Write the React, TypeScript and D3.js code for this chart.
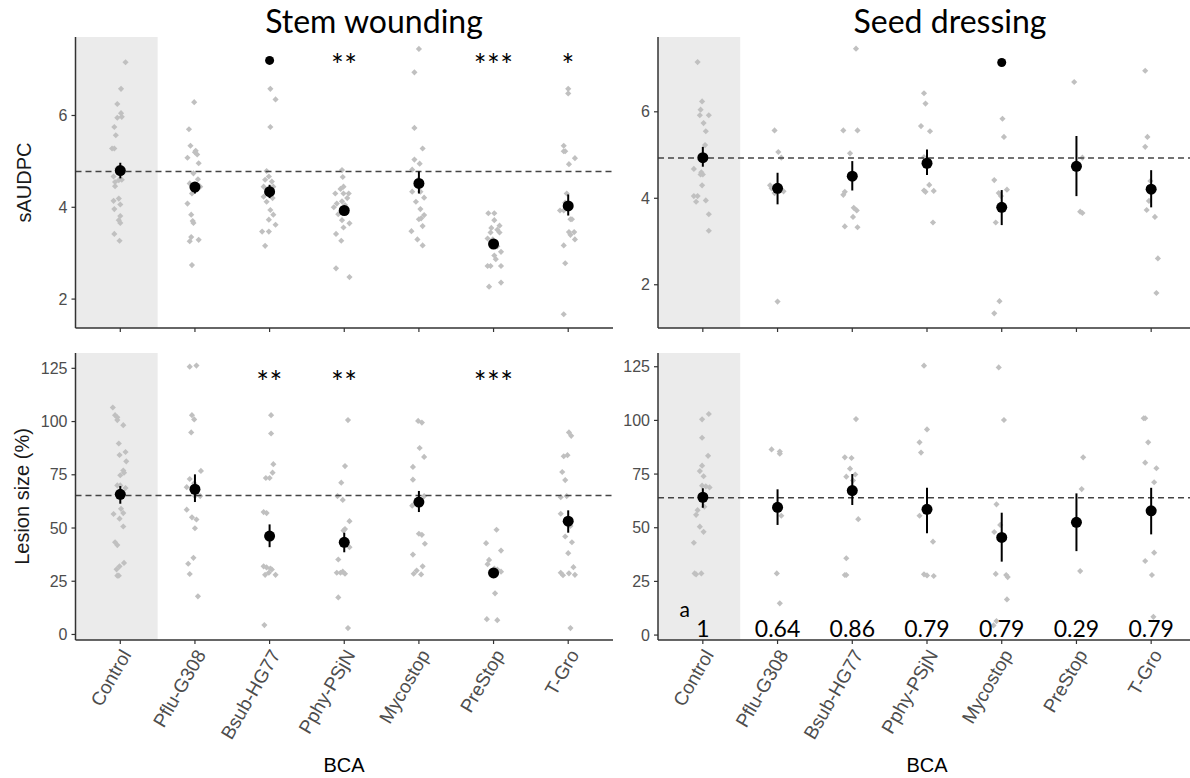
import React from "react";
import * as d3 from "d3";

// ---------- DATA ----------
const categories = ["Control", "Pflu-G308", "Bsub-HG77", "Pphy-PSjN", "Mycostop", "PreStop", "T-Gro"];

// Stem wounding – sAUDPC: [value, jitter (category units)]
const swAudpcPoints: [number, number][][] = [
  [[7.16, 0.07], [6.58, 0.01], [6.25, -0.04], [6.05, 0.01], [5.95, -0.04], [5.97, 0.02], [5.75, -0.08], [5.57, -0.06], [5.28, -0.11], [5.28, -0.08], [4.85, -0.04], [4.67, -0.09], [4.59, -0.02], [4.6, 0.02], [4.55, -0.07], [4.46, -0.07], [4.19, -0.02], [4.14, -0.09], [4.06, 0], [3.96, -0.08], [3.81, 0], [3.72, -0.02], [3.66, 0], [3.42, -0.08], [3.27, -0.01]],
  [[6.29, -0.01], [5.7, -0.08], [5.34, -0.06], [5.23, 0.01], [5.2, 0], [5.15, 0.03], [5.08, -0.1], [4.96, 0.05], [4.74, -0.02], [4.61, 0.04], [4.52, -0.07], [4.45, 0.07], [4.4, 0.02], [4.3, -0.04], [4.08, -0.1], [3.84, -0.05], [3.7, -0.03], [3.66, -0.02], [3.35, -0.05], [3.26, -0.07], [3.29, 0.05], [2.74, -0.04]],
  [[6.58, 0.01], [6.35, 0.08], [5.75, 0.01], [4.79, -0.04], [4.67, -0.01], [4.6, -0.06], [4.56, 0.03], [4.45, -0.08], [4.45, 0.05], [4.3, 0.02], [4.23, -0.08], [4.2, 0.04], [4.12, -0.04], [3.94, 0.01], [3.84, 0.05], [3.73, -0.01], [3.62, 0.08], [3.47, -0.1], [3.47, -0.01], [3.16, -0.06]],
  [[4.81, -0.03], [4.66, -0.02], [4.45, -0.01], [4.4, -0.05], [4.3, -0.12], [4.3, -0.01], [4.3, 0.06], [4.2, 0.04], [4.13, -0.03], [4.08, -0.1], [4.05, 0.01], [4.0, -0.14], [3.85, -0.08], [3.72, -0.03], [3.65, 0.07], [3.56, -0.01], [3.42, -0.11], [3.27, -0.04], [2.67, -0.11], [2.48, 0.07]],
  [[7.45, 0], [6.94, -0.06], [5.73, -0.06], [5.28, 0.05], [5.04, -0.06], [4.95, 0.01], [4.82, -0.09], [4.6, -0.01], [4.34, -0.09], [4.34, 0.02], [4.21, 0.07], [4.12, -0.04], [3.96, 0.02], [3.83, 0.07], [3.76, 0.03], [3.74, 0], [3.59, 0.05], [3.48, -0.1], [3.3, -0.02], [3.17, 0.05]],
  [[3.87, -0.07], [3.87, 0.01], [3.72, 0.01], [3.6, 0.08], [3.55, -0.03], [3.51, 0.05], [3.45, -0.04], [3.45, 0.08], [3.32, -0.08], [3.3, -0.01], [3.15, 0.05], [3.03, 0.1], [2.95, 0.01], [2.87, 0.03], [2.72, -0.08], [2.72, -0.04], [2.72, 0.1], [2.36, 0.1], [2.27, -0.06]],
  [[6.58, 0], [6.48, 0], [5.34, -0.06], [5.22, -0.06], [5.22, -0.04], [5.07, 0.09], [4.94, 0.01], [4.3, -0.02], [4.1, -0.04], [3.93, -0.11], [3.93, -0.06], [3.74, 0.05], [3.74, 0.03], [3.46, 0.01], [3.46, 0.08], [3.4, 0.03], [3.3, 0.09], [3.17, -0.06], [2.78, -0.04], [1.67, -0.06]],
];
const swAudpcMean = [4.8, 4.44, 4.34, 3.93, 4.52, 3.2, 4.03];
const swAudpcLo = [4.63, 4.3, 4.2, 3.85, 4.3, 3.13, 3.82];
const swAudpcHi = [4.97, 4.54, 4.49, 4.01, 4.78, 3.27, 4.28];
const swAudpcRef = 4.78;
const swAudpcSig = ["", "", "•", "**", "", "***", "*"];

// Seed dressing – sAUDPC
const sdAudpcPoints: [number, number][][] = [
  [[7.15, -0.07], [6.24, -0.01], [6.05, -0.03], [5.92, -0.04], [5.92, 0.08], [5.74, 0.01], [5.55, 0.04], [5.23, 0.03], [4.95, 0.02], [4.68, -0.12], [4.6, -0.02], [4.55, -0.03], [4.55, 0], [4.3, -0.01], [4.05, -0.12], [4.05, -0.07], [3.95, 0.04], [3.92, -0.09], [3.63, 0.08], [3.25, 0.08]],
  [[5.57, -0.04], [5.07, 0.01], [4.94, 0.05], [4.3, -0.1], [4.23, -0.08], [4.17, 0.03], [4.16, 0.08], [4.12, -0.04], [1.61, 0]],
  [[7.46, 0.05], [5.57, -0.12], [5.57, 0.07], [5.04, -0.03], [4.15, -0.1], [4.08, -0.12], [3.78, 0.02], [3.72, 0.06], [3.57, 0.01], [3.35, -0.1], [3.33, 0.07]],
  [[6.43, -0.04], [6.19, -0.02], [5.67, -0.08], [5.55, 0.04], [4.95, -0.04], [4.9, 0], [4.31, 0.03], [4.18, -0.04], [4.15, -0.02], [4.17, 0.09], [3.44, 0.08]],
  [[5.84, 0.01], [5.42, 0.03], [4.42, -0.1], [4.2, 0.07], [4.12, -0.04], [4.05, -0.01], [3.44, -0.08], [1.62, -0.03], [1.34, -0.1]],
  [[6.69, -0.03], [4.94, 0.08], [3.69, 0.05], [3.66, 0.08]],
  [[6.95, -0.08], [5.42, -0.05], [5.19, -0.08], [4.4, -0.01], [4.25, -0.03], [3.94, -0.03], [3.73, -0.06], [3.57, 0.05], [2.61, 0.09], [1.81, 0.07]],
];
const sdAudpcMean = [4.94, 4.23, 4.51, 4.81, 3.79, 4.74, 4.21];
const sdAudpcLo = [4.73, 3.86, 4.18, 4.54, 3.38, 4.05, 3.79];
const sdAudpcHi = [5.19, 4.59, 4.86, 5.13, 4.19, 5.44, 4.65];
const sdAudpcRef = 4.93;
const sdAudpcSig = ["", "", "", "", "•", "", ""];

// Stem wounding – lesion size (%)
const swLesionPoints: [number, number][][] = [
  [[106.6, -0.1], [103, -0.07], [102, -0.04], [100.7, -0.04], [98.3, 0.04], [89.7, -0.02], [85.7, 0.07], [84.3, -0.01], [81.3, 0.08], [77, 0.04], [76, 0.05], [74.8, 0], [70, -0.04], [70, 0], [68.8, 0.07], [64.5, 0.02], [59, 0.01], [57, 0.04], [56.6, -0.09], [54.4, -0.01], [50.7, 0.04], [43.3, -0.07], [42, -0.04], [33.6, 0.05], [32, -0.01], [30.6, -0.05], [27.6, -0.04], [27.6, -0.02]],
  [[126.3, 0.02], [125.8, -0.07], [103, -0.04], [101, -0.01], [94.9, -0.05], [76.8, 0.08], [73, -0.07], [71, -0.01], [69.2, -0.11], [65, 0], [65, 0.07], [58.6, -0.11], [55, -0.04], [54, 0.02], [49.9, 0], [36, -0.02], [33.2, -0.09], [28.4, -0.07], [17.9, 0.04]],
  [[103, 0.02], [94.4, 0.02], [80, 0.05], [76, 0.04], [73.5, -0.05], [73.5, 0], [57.5, -0.08], [57, -0.04], [32, -0.08], [31.5, -0.04], [31, 0.01], [30.5, 0.03], [29, -0.01], [28, 0.08], [28, -0.06], [4.4, -0.07]],
  [[100.7, 0.05], [79.1, 0.01], [71.3, -0.04], [65, -0.09], [63.2, -0.02], [53.2, 0.07], [49.5, 0.01], [48.8, -0.01], [41, 0.07], [35.2, -0.08], [29.5, -0.02], [29, -0.1], [29, -0.05], [28.5, 0.01], [17.4, -0.08], [3, 0.05]],
  [[100.3, -0.01], [99.5, 0.04], [87.6, 0.01], [83.4, 0.07], [78.7, -0.08], [72.7, -0.08], [65, 0.07], [63.7, 0], [62, -0.04], [60.5, -0.09], [47.3, 0], [46.8, 0.04], [42.6, 0.08], [37.5, -0.08], [32, 0.05], [30, -0.03], [28.5, -0.07], [28.2, 0.03]],
  [[49.2, 0.04], [42.9, -0.1], [39.4, 0.1], [35, -0.06], [33, -0.08], [31, 0.01], [30.5, 0.05], [29.5, 0.1], [29, -0.04], [28, 0.03], [19.3, 0.02], [7.2, -0.09], [6.7, 0.05]],
  [[94.9, 0.01], [93.3, 0.04], [84.2, -0.01], [83.7, -0.06], [76.3, -0.08], [72.5, -0.04], [65, -0.02], [64.5, -0.1], [56.7, -0.1], [51, 0.03], [46, -0.04], [43.3, 0.05], [38.2, 0], [31.6, 0.07], [29, -0.1], [28.7, 0.01], [28, 0.09], [27.8, -0.07], [3, 0.03]],
];
const swLesionMean = [65.8, 68.2, 46.2, 43.3, 62.2, 28.9, 53.2];
const swLesionLo = [61.4, 62.2, 41.0, 38.6, 57.5, 27.0, 47.8];
const swLesionHi = [69.7, 75.2, 51.7, 47.8, 67.4, 30.8, 58.3];
const swLesionRef = 65.3;
const swLesionSig = ["", "", "**", "**", "", "***", ""];

// Seed dressing – lesion size (%)
const sdLesionPoints: [number, number][][] = [
  [[103, 0.08], [100.5, -0.01], [91.9, -0.01], [83.5, 0.07], [78.9, -0.01], [76.4, -0.04], [74, 0.01], [69.6, -0.01], [69.3, 0.04], [68.8, 0.09], [59.8, 0.02], [58.2, -0.07], [56, -0.09], [50.5, -0.04], [48.1, 0.01], [43, -0.12], [28.7, -0.11], [28.3, -0.09], [28.7, -0.02]],
  [[86.5, -0.08], [85.5, 0.03], [84.5, 0.03], [55.6, 0.05], [28.7, -0.01], [14.8, 0.03]],
  [[100.6, 0.05], [82.8, -0.1], [82.5, -0.01], [77.5, -0.03], [74.8, 0.04], [73.8, -0.08], [72, 0.01], [54, 0.08], [35.8, -0.08], [28, -0.1], [28, -0.08]],
  [[125.5, -0.04], [95.8, 0], [89.8, -0.1], [85, -0.08], [55.6, -0.1], [43.5, 0.08], [28.3, -0.04], [27.8, 0], [27.5, 0.09]],
  [[124.7, -0.04], [100.2, 0.03], [60.9, -0.07], [51.3, -0.02], [48, -0.1], [28.5, -0.08], [28, 0.06], [27, 0.08], [16.6, 0.07], [6.5, -0.07], [4.5, -0.11]],
  [[82.8, 0.09], [68, 0.07], [29.8, 0.05]],
  [[101, -0.1], [101, -0.08], [89.8, -0.04], [80.3, -0.08], [77.7, 0.07], [71.2, 0.04], [38.4, 0.04], [34.5, -0.08], [28, 0.01], [8.5, 0.03]],
];
const sdLesionMean = [64.2, 59.5, 67.3, 58.6, 45.5, 52.5, 57.9];
const sdLesionLo = [59.3, 51.3, 60.6, 47.4, 34.2, 39.1, 46.9];
const sdLesionHi = [68.4, 67.9, 75.0, 68.6, 57.0, 66.0, 68.6];
const sdLesionRef = 64;
const sdLesionSig = ["", "", "", "", "", "", ""];
const sdLesionPvalues = ["1", "0.64", "0.86", "0.79", "0.79", "0.29", "0.79"];
const sdLesionLetter = "a";

const audpcTicks = [2, 4, 6];
const lesionTicks = [0, 25, 50, 75, 100, 125];

const titles = ["Stem wounding", "Seed dressing"];
const xTitle = "BCA";
const yTitles = ["sAUDPC", "Lesion size (%)"];

// ---------- LAYOUT ----------
const W = 1190, H = 778;
const colX: [number, number][] = [[75.5, 613], [658, 1196]];
const rowY: [number, number][] = [[37, 328], [353, 640]];

type PanelDef = {
  col: number; row: number; domain: [number, number]; ticks: number[];
  points: [number, number][][]; mean: number[]; lo: number[]; hi: number[]; ref: number;
  sig: string[]; sigY: number; pvals?: string[];
};

const panels: PanelDef[] = [
  { col: 0, row: 0, domain: [1.37, 7.71], ticks: audpcTicks, points: swAudpcPoints, mean: swAudpcMean, lo: swAudpcLo, hi: swAudpcHi, ref: swAudpcRef, sig: swAudpcSig, sigY: 7.2 },
  { col: 1, row: 0, domain: [1.0, 7.73], ticks: audpcTicks, points: sdAudpcPoints, mean: sdAudpcMean, lo: sdAudpcLo, hi: sdAudpcHi, ref: sdAudpcRef, sig: sdAudpcSig, sigY: 7.14 },
  { col: 0, row: 1, domain: [-2.6, 132.2], ticks: lesionTicks, points: swLesionPoints, mean: swLesionMean, lo: swLesionLo, hi: swLesionHi, ref: swLesionRef, sig: swLesionSig, sigY: 121 },
  { col: 1, row: 1, domain: [-2.3, 131.4], ticks: lesionTicks, points: sdLesionPoints, mean: sdLesionMean, lo: sdLesionLo, hi: sdLesionHi, ref: sdLesionRef, sig: sdLesionSig, sigY: 121, pvals: sdLesionPvalues },
];

const GREY = "#4d4d4d";
const AXIS = "#333333";
const CALIBRI = "Lato, 'Open Sans', sans-serif";
const ARIAL = "'Liberation Sans', 'DejaVu Sans', sans-serif";

const diamond = d3.symbol(d3.symbolSquare, 19)();

function Panel({ p }: { p: PanelDef }) {
  const [x0, x1] = colX[p.col];
  const [y0, y1] = rowY[p.row];
  // ggplot discrete scale: 0.6 expansion on each side
  const x = d3.scalePoint<string>().domain(categories).range([x0, x1]).padding(0.6);
  const step = x.step();
  const cx = (i: number) => x(categories[i]) as number;
  const y = d3.scaleLinear().domain(p.domain).range([y1, y0]);
  return (
    <g>
      <rect x={x0} y={y0} width={cx(0) + step / 2 - x0} height={y1 - y0} fill="#ebebeb" />
      {p.points.map((pts, i) =>
        pts.map(([v, j], k) => (
          <path key={`${i}-${k}`} d={diamond as string} fill="#c0c0c0"
            transform={`translate(${cx(i) + j * step},${y(v)}) rotate(45)`} />
        ))
      )}
      <line x1={x0} x2={x1} y1={y(p.ref)} y2={y(p.ref)} stroke="#444" strokeWidth={1.5} strokeDasharray="6,4" />
      {p.mean.map((m, i) => (
        <g key={`m${i}`}>
          <line x1={cx(i)} x2={cx(i)} y1={y(p.lo[i])} y2={y(p.hi[i])} stroke="#000" strokeWidth={2} />
          <circle cx={cx(i)} cy={y(m)} r={5.5} fill="#000" />
        </g>
      ))}
      {p.sig.map((s, i) =>
        s === "" ? null : s === "•" ? (
          <circle key={`s${i}`} cx={cx(i)} cy={y(p.sigY)} r={4.5} fill="#000" />
        ) : (
          <text key={`s${i}`} x={cx(i)} y={y(p.sigY) + 16} textAnchor="middle" fontFamily={CALIBRI}
            fontSize={30} letterSpacing={0.5} fill="#000">{s}</text>
        )
      )}
      {p.pvals && p.pvals.map((t, i) => (
        <text key={`p${i}`} x={cx(i)} y={y1 - 3} textAnchor="middle" fontFamily={CALIBRI} fontSize={23} fill="#000">{t}</text>
      ))}
      {p.pvals && (
        <text x={cx(0) - 18} y={y1 - 23} textAnchor="middle" fontFamily={CALIBRI} fontSize={21} fill="#000">{sdLesionLetter}</text>
      )}
      <line x1={x0} x2={x0} y1={y0} y2={y1} stroke={AXIS} strokeWidth={1.5} />
      <line x1={x0} x2={x1} y1={y1} y2={y1} stroke={AXIS} strokeWidth={1.5} />
      {p.ticks.map((t) => (
        <g key={`t${t}`}>
          <line x1={x0 - 4} x2={x0} y1={y(t)} y2={y(t)} stroke={AXIS} strokeWidth={1.2} />
          <text x={x0 - 8} y={y(t)} dy="0.35em" textAnchor="end" fontFamily={ARIAL} fontSize={16} fill={GREY}>{t}</text>
        </g>
      ))}
      {categories.map((c, i) => (
        <line key={`xt${i}`} x1={cx(i)} x2={cx(i)} y1={y1} y2={y1 + 4} stroke={AXIS} strokeWidth={1.2} />
      ))}
      {p.row === 1 && categories.map((c, i) => (
        <text key={`xl${i}`} transform={`translate(${cx(i)},${y1 + 8}) rotate(-60)`} dy="0.7em"
          textAnchor="end" fontFamily={ARIAL} fontSize={19} fill={GREY}>{c}</text>
      ))}
    </g>
  );
}

export default function App() {
  return (
    <svg width={W} height={H} style={{ position: "absolute", left: 0, top: 0, background: "#fff" }}>
      <rect x={0} y={0} width={W} height={H} fill="#fff" />
      {panels.map((p, i) => <Panel key={i} p={p} />)}
      <text x={374} y={33} textAnchor="middle" fontFamily={CALIBRI} fontSize={32} fill="#000">{titles[0]}</text>
      <text x={950} y={33} textAnchor="middle" fontFamily={CALIBRI} fontSize={32} fill="#000">{titles[1]}</text>
      <text x={344} y={772} textAnchor="middle" fontFamily={ARIAL} fontSize={20} fill="#000">{xTitle}</text>
      <text x={927} y={772} textAnchor="middle" fontFamily={ARIAL} fontSize={20} fill="#000">{xTitle}</text>
      <text transform={`translate(31,${(rowY[0][0] + rowY[0][1]) / 2}) rotate(-90)`} textAnchor="middle"
        fontFamily={ARIAL} fontSize={20} fill="#1a1a1a">{yTitles[0]}</text>
      <text transform={`translate(29,${(rowY[1][0] + rowY[1][1]) / 2}) rotate(-90)`} textAnchor="middle"
        fontFamily={ARIAL} fontSize={20} fill="#1a1a1a">{yTitles[1]}</text>
    </svg>
  );
}
